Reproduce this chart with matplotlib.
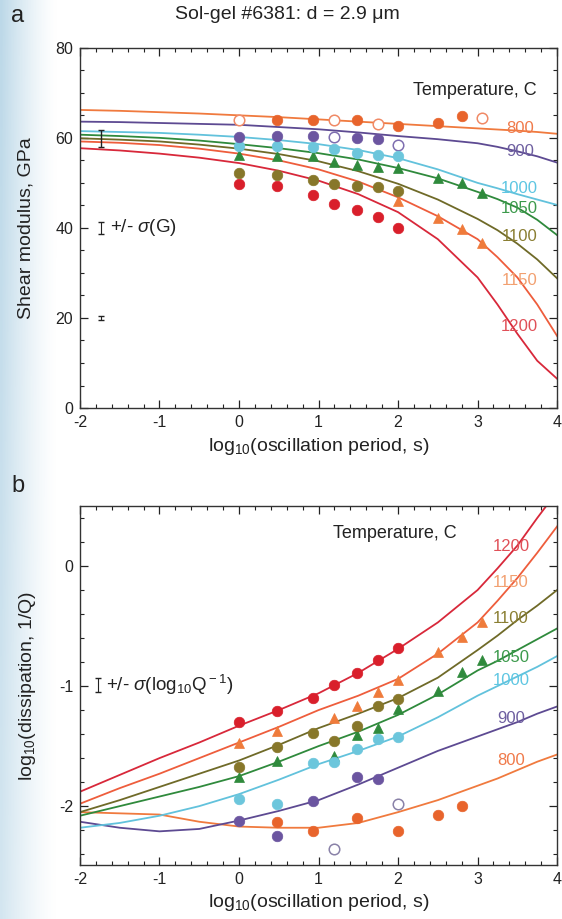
import numpy as np
import matplotlib
matplotlib.use('Agg')
import matplotlib.pyplot as plt
from matplotlib.ticker import MultipleLocator

plt.rcParams['font.family'] = ['Liberation Sans', 'DejaVu Sans']
plt.rcParams['mathtext.fontset'] = 'custom'
plt.rcParams['mathtext.rm'] = 'Liberation Sans'
plt.rcParams['mathtext.it'] = 'Liberation Sans:italic'
plt.rcParams['mathtext.bf'] = 'Liberation Sans:bold'
plt.rcParams['mathtext.sf'] = 'Liberation Sans'
plt.rcParams['axes.unicode_minus'] = False

# ---------------- data ----------------
temps = ['800', '900', '1000', '1050', '1100', '1150', '1200']
curve_x = [-2, -1.5, -1, -0.5, 0, 0.5, 1, 1.5, 2, 2.5, 3, 3.25, 3.5, 3.75, 4]

G_fit_800 = [66.2, 66.0, 65.7, 65.4, 65.0, 64.6, 64.1, 63.6, 63.1, 62.6, 62.1, 61.85, 61.6, 61.3, 60.9]
G_fit_900 = [63.6, 63.5, 63.3, 63.1, 62.9, 62.4, 61.9, 61.2, 60.4, 59.7, 58.8, 58.0, 57.0, 55.9, 54.5]
G_fit_1000 = [61.5, 61.3, 61.1, 60.7, 60.2, 59.5, 58.6, 57.3, 55.5, 53.0, 50.0, 48.8, 47.5, 46.3, 45.1]
G_fit_1050 = [60.7, 60.4, 60.0, 59.4, 58.6, 57.7, 56.6, 55.2, 53.3, 51.0, 48.0, 46.4, 44.5, 41.8, 38.4]
G_fit_1100 = [59.9, 59.6, 59.2, 58.5, 57.6, 56.4, 54.8, 52.6, 49.8, 46.3, 42.0, 39.5, 36.5, 33.0, 28.8]
G_fit_1150 = [59.2, 58.9, 58.4, 57.6, 56.5, 55.0, 53.0, 50.3, 46.8, 42.6, 37.5, 33.5, 29.0, 23.0, 16.0]
G_fit_1200 = [57.7, 57.2, 56.5, 55.6, 54.4, 52.7, 50.5, 47.5, 43.5, 37.5, 29.0, 23.0, 16.5, 10.5, 6.5]

Q_fit_800 = [-2.05, -2.06, -2.07, -2.13, -2.17, -2.18, -2.18, -2.14, -2.05, -1.95, -1.83, -1.77, -1.70, -1.63, -1.57]
Q_fit_900 = [-2.13, -2.18, -2.21, -2.19, -2.12, -2.04, -1.95, -1.82, -1.68, -1.54, -1.42, -1.36, -1.30, -1.23, -1.17]
Q_fit_1000 = [-2.18, -2.14, -2.08, -2.00, -1.90, -1.78, -1.65, -1.54, -1.42, -1.26, -1.08, -1.00, -0.92, -0.84, -0.75]
Q_fit_1050 = [-2.08, -2.00, -1.92, -1.84, -1.75, -1.63, -1.50, -1.38, -1.24, -1.07, -0.87, -0.79, -0.70, -0.61, -0.52]
Q_fit_1100 = [-2.05, -1.95, -1.84, -1.73, -1.62, -1.49, -1.35, -1.23, -1.10, -0.93, -0.70, -0.58, -0.45, -0.33, -0.20]
Q_fit_1150 = [-1.98, -1.85, -1.73, -1.60, -1.47, -1.34, -1.20, -1.08, -0.94, -0.73, -0.47, -0.29, -0.10, 0.11, 0.33]
Q_fit_1200 = [-1.88, -1.74, -1.60, -1.47, -1.33, -1.20, -1.06, -0.89, -0.69, -0.47, -0.20, -0.02, 0.17, 0.40, 0.62]

# measured points, panel a (shear modulus, GPa)
a800_x = [0.48, 0.93, 1.48, 2.0, 2.5, 2.8]
a800_G = [64.0, 64.0, 64.0, 62.7, 63.3, 64.9]
a800_open_x = [0.0, 1.2, 1.75, 3.05]
a800_open_G = [64.0, 64.0, 63.0, 64.4]
a900_x = [0.0, 0.48, 0.93, 1.48, 1.75]
a900_G = [60.1, 60.4, 60.4, 59.9, 59.7]
a900_open_x = [1.2, 2.0]
a900_open_G = [60.1, 58.5]
a1000_x = [0.0, 0.48, 0.93, 1.2, 1.48, 1.75, 2.0]
a1000_G = [58.1, 58.1, 58.0, 57.5, 56.6, 56.2, 55.9]
a1050_x = [0.0, 0.48, 0.93, 1.2, 1.48, 1.75, 2.0, 2.5, 2.8, 3.05]
a1050_G = [56.2, 56.0, 55.9, 54.7, 54.0, 53.6, 53.3, 51.1, 49.9, 47.8]
a1100_x = [0.0, 0.48, 0.93, 1.2, 1.48, 1.75, 2.0]
a1100_G = [52.1, 51.8, 50.7, 49.8, 49.4, 49.0, 48.1]
a1150_x = [2.0, 2.5, 2.8, 3.05]
a1150_G = [46.0, 42.3, 39.7, 36.6]
a1200_x = [0.0, 0.48, 0.93, 1.2, 1.48, 1.75, 2.0]
a1200_G = [49.8, 49.2, 47.3, 45.3, 44.0, 42.5, 39.9]

# measured points, panel b (log10 dissipation)
b1200_x = [0.0, 0.48, 0.93, 1.2, 1.48, 1.75, 2.0]
b1200_Q = [-1.30, -1.21, -1.10, -0.99, -0.89, -0.78, -0.68]
b1150_x = [0.0, 0.48, 1.2, 1.48, 1.75, 2.0, 2.5, 2.8, 3.05]
b1150_Q = [-1.47, -1.37, -1.27, -1.17, -1.05, -0.95, -0.72, -0.59, -0.47]
b1100_x = [0.0, 0.48, 0.93, 1.2, 1.48, 1.75, 2.0]
b1100_Q = [-1.67, -1.51, -1.39, -1.46, -1.33, -1.17, -1.11]
b1050_x = [0.0, 0.48, 1.2, 1.48, 1.75, 2.0, 2.5, 2.8, 3.05]
b1050_Q = [-1.76, -1.62, -1.58, -1.41, -1.35, -1.19, -1.04, -0.88, -0.78]
b1000_x = [0.0, 0.48, 0.93, 1.2, 1.48, 1.75, 2.0]
b1000_Q = [-1.94, -1.98, -1.64, -1.63, -1.52, -1.44, -1.42]
b900_x = [0.0, 0.48, 0.93, 1.48, 1.75]
b900_Q = [-2.12, -2.25, -1.96, -1.76, -1.77]
b900_open_x = [1.2, 2.0]
b900_open_Q = [-2.36, -1.98]
b800_x = [0.48, 0.93, 1.48, 2.0, 2.5, 2.8]
b800_Q = [-2.13, -2.21, -2.10, -2.21, -2.07, -2.00]

# label positions of temperature names (data coords)
a_label_y = [62.0, 57.0, 48.8, 44.4, 38.1, 28.4, 18.1]
b_label_y = [-1.62, -1.27, -0.95, -0.76, -0.44, -0.14, 0.16]

# ---------------- styles ----------------
line_col = {'800': '#f07a3e', '900': '#5d4a92', '1000': '#62c2dc', '1050': '#2f8a3c',
            '1100': '#6f6a28', '1150': '#ee5d3c', '1200': '#d8283a'}
pt_col = {'800': '#e8642c', '900': '#6b55a0', '1000': '#6cc6dc', '1050': '#2f8a3c',
          '1100': '#87772a', '1150': '#ef7b3b', '1200': '#d91f2b'}
lab_col = {'800': '#f07a4a', '900': '#6e5fa0', '1000': '#5ec6e2', '1050': '#3c9a4c',
           '1100': '#8a7e32', '1150': '#f2a070', '1200': '#e05058'}
ink = '#222222'

fig = plt.figure(figsize=(5.62, 9.19), dpi=100)
fig.patch.set_facecolor('white')

# light blue page gradient on the left
bg = fig.add_axes([0, 0, 1, 1], zorder=-10)
gx = np.linspace(0, 1, 200)
gy = np.linspace(0, 1, 100)[:, None]
alpha = np.clip(1 - gx[None, :] / 0.10, 0, 1) ** 1.4 * (0.65 + 0.35 * (1 - gy))
img = np.ones((100, 200, 4))
img[..., 0] = 0.74
img[..., 1] = 0.85
img[..., 2] = 0.91
img[..., 3] = alpha
bg.imshow(img, aspect='auto', extent=[0, 1, 0, 1], origin='upper')
bg.set_axis_off()

ax_a = fig.add_axes([0.1423, 0.556, 0.849, 0.392])
ax_b = fig.add_axes([0.1423, 0.0588, 0.849, 0.3906])

G_fits = [G_fit_800, G_fit_900, G_fit_1000, G_fit_1050, G_fit_1100, G_fit_1150, G_fit_1200]
Q_fits = [Q_fit_800, Q_fit_900, Q_fit_1000, Q_fit_1050, Q_fit_1100, Q_fit_1150, Q_fit_1200]

for t, g, q in zip(temps, G_fits, Q_fits):
    ax_a.plot(curve_x, g, color=line_col[t], lw=1.3, zorder=2)
    ax_b.plot(curve_x, q, color=line_col[t], lw=1.3, zorder=2)

ms_c = 7.6
ms_t = 6.8


def circles(ax, x, y, t, z=3):
    ax.plot(x, y, 'o', ms=ms_c, color=pt_col[t], mec=pt_col[t], mew=0.5, ls='none', zorder=z)


def tris(ax, x, y, t, z=3):
    ax.plot(x, y, '^', ms=ms_t, color=pt_col[t], mec=pt_col[t], mew=0.5, ls='none', zorder=z)


def opens(ax, x, y, c):
    ax.plot(x, y, 'o', ms=ms_c, mfc='white', mec=c, mew=1.1, ls='none', zorder=3)


# panel a points
tris(ax_a, a1050_x, a1050_G, '1050', 3)
circles(ax_a, a1000_x, a1000_G, '1000', 4)
circles(ax_a, a900_x, a900_G, '900', 4)
opens(ax_a, a900_open_x, a900_open_G, '#7f6fb0')
circles(ax_a, a800_x, a800_G, '800', 4)
opens(ax_a, a800_open_x, a800_open_G, '#f08a66')
tris(ax_a, a1150_x, a1150_G, '1150', 3)
circles(ax_a, a1200_x, a1200_G, '1200', 3)
circles(ax_a, a1100_x, a1100_G, '1100', 4)

# panel b points
circles(ax_b, b1200_x, b1200_Q, '1200')
tris(ax_b, b1150_x, b1150_Q, '1150')
tris(ax_b, b1050_x, b1050_Q, '1050')
circles(ax_b, b1100_x, b1100_Q, '1100', 4)
circles(ax_b, b1000_x, b1000_Q, '1000')
circles(ax_b, b900_x, b900_Q, '900')
opens(ax_b, b900_open_x, b900_open_Q, '#8a82a8')
circles(ax_b, b800_x, b800_Q, '800')

# temperature labels
for t, ya, yb in zip(temps, a_label_y, b_label_y):
    ax_a.text(3.53, ya, t, color=lab_col[t], fontsize=12, ha='center', va='center', zorder=5)
    ax_b.text(3.42, yb, t, color=lab_col[t], fontsize=12, ha='center', va='center', zorder=5)

ax_a.text(3.74, 70.5, 'Temperature, C', fontsize=13, ha='right', va='center', color=ink)
ax_b.text(2.74, 0.27, 'Temperature, C', fontsize=13, ha='right', va='center', color=ink)

# error bar annotations
ax_a.errorbar([-1.73], [59.9], yerr=[1.85], fmt='none', ecolor=ink, elinewidth=1.0, capsize=2.5, zorder=5)
ax_a.errorbar([-1.73], [40.0], yerr=[1.3], fmt='none', ecolor=ink, elinewidth=0.8, capsize=2, zorder=5)
ax_a.errorbar([-1.73], [20.0], yerr=[0.35], fmt='none', ecolor=ink, elinewidth=0.8, capsize=2, zorder=5)
ax_a.text(-1.62, 40.0, r'+/- $\sigma$(G)', fontsize=13.5, ha='left', va='center', color=ink)
ax_b.errorbar([-1.77], [-0.99], yerr=[0.06], fmt='none', ecolor=ink, elinewidth=0.8, capsize=2.5, zorder=5)
ax_b.text(-1.67, -0.99, r'+/- $\sigma$(log$_{10}$Q$^{\rm -1}$)', fontsize=13.5, ha='left', va='center', color=ink)

# axes formatting
for ax in (ax_a, ax_b):
    ax.set_xlim(-2, 4)
    ax.xaxis.set_major_locator(MultipleLocator(1))
    ax.xaxis.set_minor_locator(MultipleLocator(0.2))
    ax.tick_params(which='both', direction='in', top=True, right=True, labelsize=11.5, colors='#222222')
    ax.tick_params(which='major', length=6, width=0.9, pad=5)
    ax.tick_params(which='minor', length=3, width=0.8)
    for s in ax.spines.values():
        s.set_linewidth(1.0)
        s.set_color('#333333')
    ax.set_facecolor('white')
    ax.set_xlabel(r'log$_{10}$(oscillation period, s)', fontsize=14, color=ink, labelpad=4)

ax_a.set_ylim(0, 80)
ax_a.yaxis.set_major_locator(MultipleLocator(20))
ax_a.yaxis.set_minor_locator(MultipleLocator(5))
ax_a.set_ylabel('Shear modulus, GPa', fontsize=14, color=ink, labelpad=15)

ax_b.set_ylim(-2.49, 0.5)
ax_b.yaxis.set_major_locator(MultipleLocator(1))
ax_b.yaxis.set_minor_locator(MultipleLocator(0.2))
ax_b.set_ylabel(r'log$_{10}$(dissipation, 1/Q)', fontsize=14, color=ink, labelpad=15)

fig.text(0.512, 0.984, 'Sol-gel #6381: d = 2.9 μm', fontsize=14, ha='center', va='center', color=ink)
fig.text(0.02, 0.995, 'a', fontsize=17, ha='left', va='top', color=ink)
fig.text(0.02, 0.483, 'b', fontsize=17, ha='left', va='top', color=ink)

fig.savefig('out.png', dpi=100, facecolor='white')
